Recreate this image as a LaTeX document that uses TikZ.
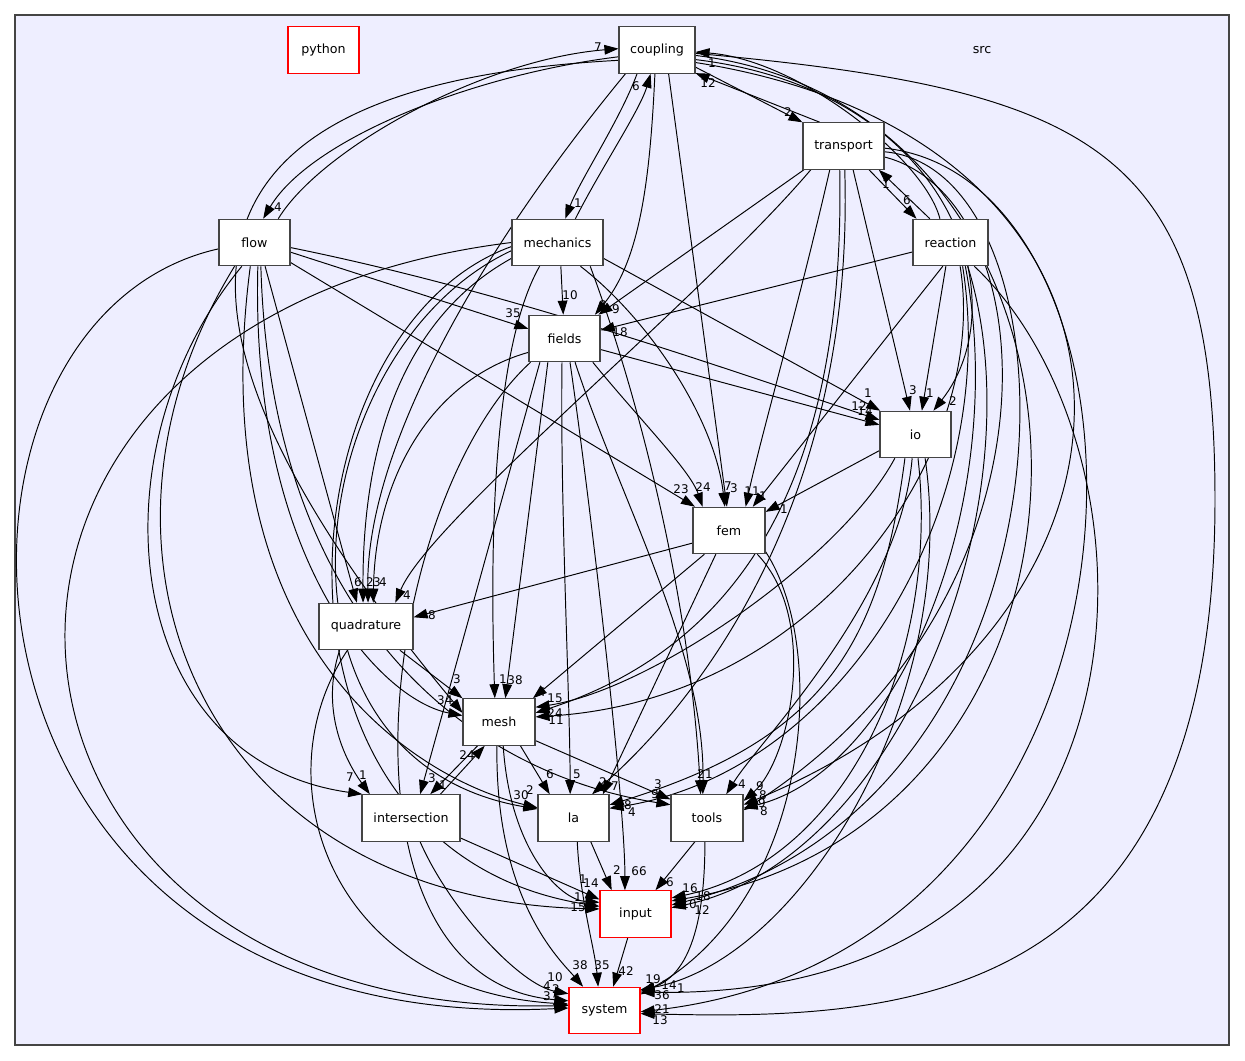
\documentclass[tikz,border=0pt]{standalone}
\usepackage{fontspec}
\setmainfont{DejaVu Sans}
\usetikzlibrary{arrows.meta}
\definecolor{clusterfill}{RGB}{238,238,255}
\definecolor{boxline}{RGB}{68,68,68}
\pgfdeclarelayer{back}
\pgfdeclarelayer{wires}
\pgfsetlayers{back,wires,main}
\tikzset{
  dirbox/.style={draw=boxline, line width=0.6pt, fill=white, minimum width=1.42cm,
    minimum height=0.93cm, inner sep=0pt, font=\fontsize{7.2}{8}\selectfont},
  extbox/.style={dirbox, draw=red},
  dep/.style={draw=black, line width=0.55pt, -{Triangle[length=8pt,width=5.5pt]}},
  num/.style={inner sep=0pt, font=\fontsize{6.8}{7}\selectfont}
}
\begin{document}
\begin{tikzpicture}[x=0.02cm, y=-0.02cm]
\useasboundingbox (0,0) rectangle (1245,1061);
\begin{pgfonlayer}{back}
  \draw[draw=boxline, fill=clusterfill, line width=0.6pt] (15,15) rectangle (1229,1045);
\end{pgfonlayer}
\node[num, font=\fontsize{7.2}{8}\selectfont] (srcname) at (982,50) {src};

% directories
\node[extbox] (python) at (323.5,50) {python};
\node[dirbox, minimum width=1.52cm] (coupling) at (657,50) {coupling};
\node[dirbox, minimum width=1.62cm] (transport) at (843.5,146) {transport};
\node[dirbox] (flow) at (254.5,242.5) {flow};
\node[dirbox, minimum width=1.82cm] (mechanics) at (557.5,242.5) {mechanics};
\node[dirbox, minimum width=1.50cm] (reaction) at (950.5,242.5) {reaction};
\node[dirbox] (fields) at (564.5,338.5) {fields};
\node[dirbox] (io) at (915.5,434.5) {io};
\node[dirbox, minimum width=1.44cm] (fem) at (729,530.5) {fem};
\node[dirbox, minimum width=1.88cm] (quadrature) at (366,626.5) {quadrature};
\node[dirbox, minimum width=1.44cm] (mesh) at (499,722) {mesh};
\node[dirbox, minimum width=1.96cm] (intersection) at (411,818) {intersection};
\node[dirbox] (la) at (573.5,818) {la};
\node[dirbox, minimum width=1.44cm] (tools) at (707,818) {tools};
\node[extbox] (input) at (635.5,914) {input};
\node[extbox] (system) at (604.5,1010.5) {system};

\begin{pgfonlayer}{wires}
% coupling
\draw[dep] (flow.45) .. controls (320,150) and (480,60) .. (coupling.178);
\draw[dep] (coupling.190) .. controls (470,75) and (310,140) .. (flow.70);
\draw[dep] (coupling.195) .. controls (250,80) and (60,230) .. (mesh.166);
\draw[dep] (mechanics.53) .. controls (600,170) and (640,110) .. (coupling.-105);
\draw[dep] (coupling.-130) .. controls (620,120) and (580,180) .. (mechanics.72);
\draw[dep] (coupling.-24) -- (transport.150);
\draw[dep] (transport.135) -- (coupling.-31);
\draw[dep] (reaction.114) .. controls (925,160) and (800,60) .. (coupling.-3);
\draw[dep] (coupling.-14) .. controls (950,90) and (1020,300) .. (io.53);
\draw[dep] (coupling.-64) -- (fem.95);
\draw[dep] (coupling.-95) .. controls (650,180) and (640,260) .. (fields.38);
\draw[dep] (coupling.-143) .. controls (480,250) and (365,450) .. (quadrature.85);
\draw[dep] (coupling.-8) .. controls (1140,110) and (1150,820) .. (input.20);
\draw[dep] (coupling.-18) .. controls (1190,140) and (1190,620) .. (tools.20);
\draw[dep] (coupling.-5) .. controls (1100,90) and (1215,150) .. (1215,500)
  .. controls (1215,1010) and (900,1020) .. (system.-5);
% transport
\draw[dep] (transport.-43) -- (reaction.145);
\draw[dep] (reaction.131) -- (transport.-34);
\draw[dep] (transport.-149) -- (fields.35);
\draw[dep] (transport.-144) .. controls (700,300) and (430,520) .. (quadrature.39);
\draw[dep] (transport.-120) .. controls (800,300) and (760,440) .. (fem.55);
\draw[dep] (transport.-99) .. controls (845,450) and (760,640) .. (mesh.14);
\draw[dep] (transport.-87) .. controls (855,500) and (700,700) .. (la.52);
\draw[dep] (transport.-68) -- (io.103);
\draw[dep] (transport.-15) .. controls (1050,200) and (1070,600) .. (tools.12);
\draw[dep] (transport.-8) .. controls (1090,170) and (1090,800) .. (input.14);
\draw[dep] (transport.-3) .. controls (1180,180) and (1190,950) .. (system.-2);
% reaction
\draw[dep] (reaction.194) -- (fields.13);
\draw[dep] (reaction.-108) -- (fem.45);
\draw[dep] (reaction.-101) -- (io.75);
\draw[dep] (reaction.-68) .. controls (990,450) and (820,700) .. (mesh.8);
\draw[dep] (reaction.-63) .. controls (1000,500) and (850,770) .. (la.15);
\draw[dep] (reaction.-58) .. controls (1010,500) and (900,770) .. (tools.15);
\draw[dep] (reaction.-54) .. controls (1040,500) and (900,860) .. (input.10);
\draw[dep] (reaction.-45) .. controls (1170,450) and (1180,1000) .. (system.27);
% flow
\draw[dep] (flow.-15) -- (fields.165);
\draw[dep] (flow.-8) .. controls (500,290) and (700,360) .. (io.158);
\draw[dep] (flow.-29) -- (fem.145);
\draw[dep] (flow.-66) -- (quadrature.111);
\draw[dep] (flow.-82) .. controls (250,560) and (380,700) .. (mesh.170);
\draw[dep] (flow.-100) .. controls (200,650) and (420,780) .. (la.164);
\draw[dep] (flow.-118) .. controls (90,450) and (120,760) .. (intersection.154);
\draw[dep] (flow.-130) .. controls (60,550) and (200,900) .. (input.172);
\draw[dep] (flow.190) .. controls (-100,320) and (-80,1040) .. (system.176);
\draw[dep] (flow.-75) .. controls (270,600) and (450,770) .. (tools.160);
% mechanics
\draw[dep] (mechanics.-82) -- (fields.93);
\draw[dep] (mechanics.-46) .. controls (650,320) and (715,420) .. (fem.100);
\draw[dep] (mechanics.-19) -- (io.146);
\draw[dep] (mechanics.199) .. controls (400,320) and (362,450) .. (quadrature.97);
\draw[dep] (mechanics.-127) .. controls (492,350) and (490,550) .. (mesh.100);
\draw[dep] (mechanics.-36) .. controls (640,400) and (690,600) .. (tools.105);
\draw[dep] (mechanics.190) .. controls (300,350) and (250,760) .. (la.166);
\draw[dep] (mechanics.185) .. controls (280,330) and (240,850) .. (input.168);
\draw[dep] (mechanics.180) .. controls (-120,320) and (-60,1020) .. (system.172);
% fields
\draw[dep] (fields.-17) -- (io.165);
\draw[dep] (fields.-40) .. controls (640,420) and (690,470) .. (fem.138);
\draw[dep] (fields.201) .. controls (430,380) and (375,480) .. (quadrature.73);
\draw[dep] (fields.-125) -- (mesh.75);
\draw[dep] (fields.-96) .. controls (560,500) and (570,700) .. (la.98);
\draw[dep] (fields.-66) .. controls (620,500) and (705,650) .. (tools.100);
\draw[dep] (fields.-77) .. controls (590,500) and (625,800) .. (input.114);
\draw[dep] (fields.-136) -- (intersection.69);
\draw[dep] (fields.215) .. controls (380,500) and (320,980) .. (system.165);
% io
\draw[dep] (io.204) -- (fem.27);
\draw[dep] (io.-131) .. controls (840,560) and (650,690) .. (mesh.22);
\draw[dep] (io.-114) .. controls (880,650) and (820,740) .. (la.20);
\draw[dep] (io.-98) .. controls (900,600) and (760,740) .. (tools.51);
\draw[dep] (io.-84) .. controls (940,650) and (850,860) .. (input.24);
\draw[dep] (io.-68) .. controls (960,700) and (800,960) .. (system.30);
% fem
\draw[dep] (fem.199) -- (quadrature.11);
\draw[dep] (fem.-136) -- (mesh.35);
\draw[dep] (fem.-119) -- (la.39);
\draw[dep] (fem.-40) .. controls (820,620) and (790,760) .. (tools.25);
\draw[dep] (fem.-30) .. controls (830,650) and (810,900) .. (system.24);
% quadrature
\draw[dep] (quadrature.-35) -- (mesh.147);
\draw[dep] (quadrature.-138) .. controls (320,710) and (345,760) .. (intersection.150);
\draw[dep] (quadrature.-128) .. controls (260,780) and (330,990) .. (system.170);
% mesh
\draw[dep] (mesh.-48) -- (la.135);
\draw[dep] (mesh.-27) -- (tools.153);
\draw[dep] (mesh.-132) -- (intersection.51);
\draw[dep] (intersection.39) -- (mesh.-121);
\draw[dep] (mesh.-80) .. controls (510,850) and (560,900) .. (input.162);
\draw[dep] (mesh.-95) .. controls (495,900) and (560,960) .. (system.132);
% intersection, la, tools, input
\draw[dep] (intersection.-22) -- (input.158);
\draw[dep] (intersection.-69) .. controls (450,910) and (520,985) .. (system.155);
\draw[dep] (la.-54) -- (input.135);
\draw[dep] (la.-81) .. controls (580,900) and (595,950) .. (system.105);
\draw[dep] (tools.-117) -- (input.50);
\draw[dep] (tools.-95) .. controls (705,920) and (690,975) .. (system.28);
\draw[dep] (input.-108) -- (system.70);
\end{pgfonlayer}

% counts
\node[num] (n1) at (598,47) {7};
\node[num] (n2) at (278,207) {4};
\node[num] (n3) at (441,700) {3};
\node[num] (n4) at (636,86) {6};
\node[num] (n5) at (578,203) {1};
\node[num] (n6) at (788,112) {2};
\node[num] (n7) at (708,83) {12};
\node[num] (n8) at (712,63) {1};
\node[num] (n9) at (953,401) {2};
\node[num] (n10) at (728,486) {7};
\node[num] (n11) at (603,305) {8};
\node[num] (n12) at (377,582) {3};
\node[num] (n13) at (690,888) {16};
\node[num] (n14) at (760,786) {9};
\node[num] (n15) at (660,1020) {13};
\node[num] (n16) at (907,200) {6};
\node[num] (n17) at (886,184) {1};
\node[num] (n18) at (616,309) {9};
\node[num] (n19) at (407,595) {4};
\node[num] (n20) at (752,491) {11};
\node[num] (n21) at (555,713) {24};
\node[num] (n22) at (603,782) {2};
\node[num] (n23) at (913,390) {3};
\node[num] (n24) at (764,811) {8};
\node[num] (n25) at (689,904) {10};
\node[num] (n26) at (662,1009) {21};
\node[num] (n27) at (620,332) {18};
\node[num] (n28) at (763,496) {1};
\node[num] (n29) at (930,393) {1};
\node[num] (n30) at (556,720) {11};
\node[num] (n31) at (632,812) {4};
\node[num] (n32) at (762,803) {9};
\node[num] (n33) at (702,910) {12};
\node[num] (n34) at (669,985) {14};
\node[num] (n35) at (513,313) {35};
\node[num] (n36) at (859,406) {12};
\node[num] (n37) at (681,489) {23};
\node[num] (n38) at (358,582) {6};
\node[num] (n39) at (449,700) {4};
\node[num] (n40) at (521,795) {30};
\node[num] (n41) at (350,777) {7};
\node[num] (n42) at (578,907) {15};
\node[num] (n43) at (556,1001) {3};
\node[num] (n44) at (655,794) {9};
\node[num] (n45) at (570,295) {10};
\node[num] (n46) at (734,488) {3};
\node[num] (n47) at (868,393) {1};
\node[num] (n48) at (370,582) {2};
\node[num] (n49) at (503,679) {1};
\node[num] (n50) at (701,774) {2};
\node[num] (n51) at (530,790) {2};
\node[num] (n52) at (578,897) {1};
\node[num] (n53) at (556,989) {2};
\node[num] (n54) at (865,411) {14};
\node[num] (n55) at (703,487) {24};
\node[num] (n56) at (383,582) {4};
\node[num] (n57) at (515,680) {38};
\node[num] (n58) at (577,774) {5};
\node[num] (n59) at (709,774) {1};
\node[num] (n60) at (639,871) {66};
\node[num] (n61) at (432,778) {3};
\node[num] (n62) at (547,986) {4};
\node[num] (n63) at (784,509) {1};
\node[num] (n64) at (555,698) {15};
\node[num] (n65) at (628,805) {8};
\node[num] (n66) at (742,784) {4};
\node[num] (n67) at (703,896) {18};
\node[num] (n68) at (653,979) {19};
\node[num] (n69) at (432,615) {8};
\node[num] (n70) at (542,692) {4};
\node[num] (n71) at (615,786) {7};
\node[num] (n72) at (763,795) {8};
\node[num] (n73) at (662,995) {36};
\node[num] (n74) at (457,679) {3};
\node[num] (n75) at (363,775) {1};
\node[num] (n76) at (547,996) {3};
\node[num] (n77) at (550,774) {6};
\node[num] (n78) at (658,784) {3};
\node[num] (n79) at (443,785) {1};
\node[num] (n80) at (467,755) {24};
\node[num] (n81) at (583,879) {1};
\node[num] (n82) at (580,965) {38};
\node[num] (n83) at (591,883) {14};
\node[num] (n84) at (555,977) {10};
\node[num] (n85) at (617,870) {2};
\node[num] (n86) at (602,965) {35};
\node[num] (n87) at (670,882) {6};
\node[num] (n88) at (681,988) {1};
\node[num] (n89) at (626,971) {42};
\end{tikzpicture}
\end{document}
